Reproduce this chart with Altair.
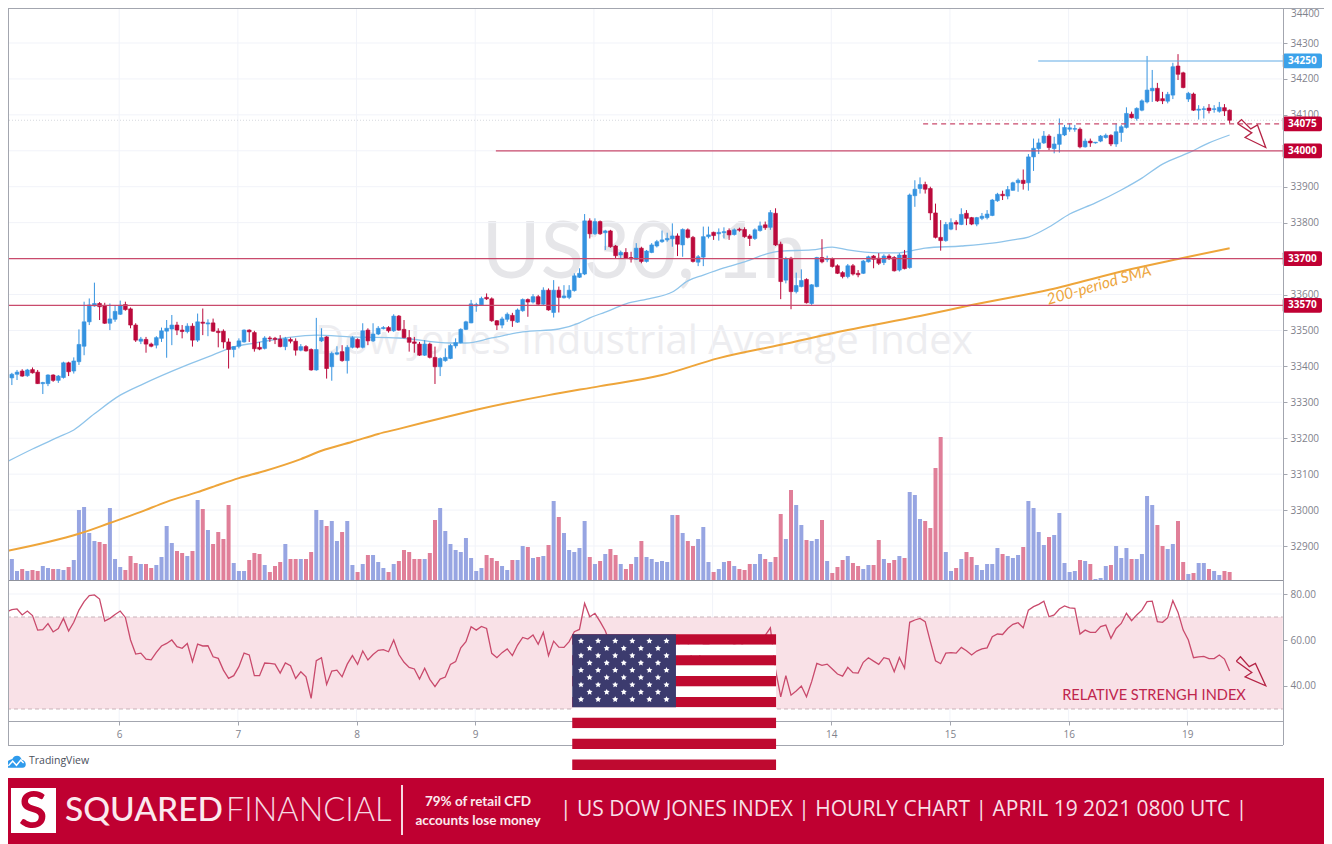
import altair as alt
import pandas as pd

OPEN = [33308,33368,33378,33387,33374,33391,33384,33352,33352,33376,
33361,33369,33410,33387,33413,33456,33524,33568,33575,33568,
33520,33531,33545,33572,33560,33515,33470,33475,33462,33459,
33478,33498,33504,33515,33501,33497,33512,33473,33523,33518,
33521,33498,33498,33468,33447,33456,33468,33501,33494,33453,
33450,33479,33478,33476,33455,33475,33470,33445,33455,33447,
33390,33471,33482,33399,33434,33441,33416,33453,33475,33453,
33501,33471,33490,33505,33508,33499,33540,33503,33480,33468,
33462,33431,33462,33425,33399,33416,33422,33457,33466,33503,
33521,33568,33571,33592,33588,33527,33515,33531,33542,33523,
33555,33586,33579,33594,33573,33612,33550,33612,33591,33592,
33611,33648,33657,33805,33769,33803,33772,33777,33735,33710,
33717,33703,33698,33729,33692,33717,33735,33747,33752,33755,
33763,33738,33780,33759,33690,33704,33761,33773,33769,33772,
33778,33767,33782,33781,33763,33756,33778,33794,33787,33826,
33740,33640,33701,33608,33622,33642,33575,33622,33703,33697,
33699,33680,33661,33650,33680,33659,33659,33691,33707,33701,
33689,33707,33703,33668,33710,33675,33875,33895,33906,33895,
33827,33759,33750,33782,33801,33795,33826,33814,33796,33812,
33814,33820,33861,33879,33874,33890,33911,33918,33911,33983,
34006,34022,34041,34006,34018,34044,34060,34060,34060,34011,
34027,34022,34027,34037,34043,34019,34051,34065,34102,34090,
34113,34136,34167,34174,34145,34138,34155,34236,34217,34144,
34158,34113,34115,34119,34115,34110,34120,34113]
CLOSE = [33390,33378,33384,33373,33390,33382,33352,33355,33376,33361,
33373,33410,33385,33415,33461,33524,33571,33575,33566,33520,
33532,33553,33570,33558,33515,33473,33476,33462,33456,33480,
33499,33506,33515,33501,33497,33512,33473,33524,33520,33521,
33498,33494,33468,33447,33455,33471,33501,33496,33449,33448,
33479,33477,33475,33455,33477,33470,33445,33455,33443,33390,
33447,33480,33394,33436,33438,33416,33453,33480,33453,33499,
33471,33490,33506,33508,33499,33540,33501,33480,33467,33464,
33431,33462,33425,33399,33422,33425,33458,33466,33503,33524,
33574,33572,33589,33588,33527,33515,33532,33545,33527,33557,
33586,33579,33594,33573,33612,33557,33612,33592,33596,33612,
33652,33659,33805,33769,33803,33769,33777,33733,33708,33717,
33701,33699,33729,33692,33721,33738,33747,33752,33756,33763,
33740,33781,33759,33692,33705,33761,33766,33764,33773,33775,
33766,33780,33779,33761,33756,33780,33791,33786,33828,33738,
33636,33699,33608,33625,33639,33577,33627,33703,33691,33699,
33678,33659,33650,33680,33657,33655,33693,33705,33698,33687,
33707,33701,33666,33710,33672,33877,33893,33906,33893,33827,
33759,33750,33795,33800,33796,33823,33812,33796,33814,33818,
33824,33863,33879,33875,33892,33911,33918,33909,33983,34007,
34022,34041,34009,34019,34046,34065,34064,34062,34011,34027,
34022,34024,34041,34043,34019,34053,34067,34104,34092,34118,
34139,34169,34174,34139,34139,34157,34234,34213,34176,34160,
34113,34116,34117,34112,34117,34121,34111,34085]
HIGH = [33394,33382,33390,33392,33393,33397,33390,33357,33378,33378,
33376,33413,33413,33425,33503,33580,33589,33633,33579,33577,
33575,33568,33583,33580,33564,33520,33482,33482,33466,33484,
33508,33529,33543,33524,33515,33520,33520,33547,33561,33531,
33533,33506,33503,33478,33456,33478,33503,33503,33499,33468,
33484,33484,33482,33487,33482,33480,33478,33462,33459,33450,
33535,33506,33484,33441,33456,33459,33459,33484,33478,33520,
33506,33520,33512,33512,33512,33545,33543,33529,33501,33482,
33468,33473,33466,33455,33425,33450,33462,33478,33506,33527,
33585,33577,33594,33603,33592,33529,33538,33550,33549,33561,
33589,33589,33601,33599,33620,33617,33640,33622,33626,33626,
33659,33673,33824,33812,33812,33806,33780,33780,33738,33722,
33729,33719,33743,33733,33724,33743,33752,33778,33772,33798,
33770,33784,33784,33763,33710,33789,33789,33775,33784,33787,
33784,33784,33786,33787,33768,33784,33803,33803,33835,33840,
33747,33705,33705,33661,33670,33645,33629,33705,33754,33708,
33703,33684,33665,33685,33685,33668,33696,33708,33710,33715,
33712,33712,33707,33715,33724,33881,33918,33926,33914,33900,
33853,33807,33802,33812,33807,33840,33835,33816,33816,33827,
33835,33866,33883,33889,33902,33914,33923,33948,33991,34034,
34034,34055,34046,34039,34090,34072,34076,34072,34065,34034,
34034,34024,34044,34048,34046,34076,34072,34121,34109,34121,
34143,34264,34225,34189,34164,34164,34245,34269,34220,34164,
34162,34127,34124,34130,34127,34136,34130,34115]
LOW = [33306,33348,33362,33371,33371,33380,33351,33323,33345,33357,
33354,33366,33373,33380,33404,33431,33515,33566,33529,33518,
33501,33524,33543,33555,33506,33468,33462,33438,33453,33450,
33468,33424,33459,33487,33478,33492,33455,33468,33487,33484,
33496,33453,33450,33394,33425,33450,33466,33468,33441,33445,
33447,33468,33462,33453,33445,33464,33430,33442,33441,33388,
33388,33468,33366,33360,33431,33413,33380,33450,33450,33450,
33459,33468,33487,33503,33494,33496,33499,33478,33441,33438,
33429,33429,33422,33351,33373,33413,33420,33450,33464,33501,
33520,33552,33568,33585,33524,33501,33506,33524,33510,33521,
33552,33538,33575,33571,33571,33555,33536,33550,33589,33587,
33608,33646,33654,33756,33766,33766,33724,33730,33701,33701,
33699,33689,33696,33687,33689,33715,33731,33744,33747,33733,
33707,33705,33756,33689,33679,33679,33756,33752,33750,33756,
33752,33764,33775,33758,33735,33752,33775,33780,33780,33735,
33587,33631,33559,33603,33620,33575,33568,33620,33687,33690,
33675,33657,33645,33645,33653,33648,33657,33689,33673,33682,
33682,33696,33664,33664,33670,33672,33844,33881,33881,33807,
33756,33722,33747,33779,33779,33793,33793,33793,33790,33807,
33809,33818,33858,33863,33865,33889,33886,33892,33889,33944,
33991,34019,34002,33993,33995,34041,34053,34053,34007,34009,
34011,34020,34024,34034,34013,34011,34025,34062,34090,34084,
34110,34132,34136,34136,34130,34132,34144,34197,34174,34136,
34111,34087,34090,34104,34106,34106,34097,34076]
VOLUME = [17,21,9,11,9,10,9,14,12,11,11,10,13,20,70,73,47,39,38,36,
72,21,13,10,24,17,16,16,12,15,23,54,37,29,27,24,29,80,71,50,
36,48,41,75,17,9,9,20,27,26,15,8,14,18,36,21,21,21,21,28,
70,60,54,59,39,48,59,15,8,16,25,25,18,12,8,16,19,30,28,21,
21,21,27,60,72,49,36,30,28,42,22,9,12,25,22,19,
14,10,20,20,34,33,22,23,24,35,79,63,47,30,28,32,59,23,16,19,
26,31,25,16,11,16,23,39,23,21,18,19,18,65,65,47,39,34,41,53,
18,8,11,18,19,14,11,10,16,16,26,21,18,23,66,41,90,75,55,40,
39,41,60,19,7,13,20,24,17,14,11,15,15,40,21,17,20,24,22,88,
85,61,59,52,112,143,28,9,12,21,28,23,15,10,16,16,32,26,24,22,
25,33,79,72,48,35,43,45,67,17,8,9,20,19,16,1,2,14,15,34,
22,32,21,21,26,84,75,55,34,31,36,59,18,6,7,17,17,11,9,5,9,8]
RSI = [72.3,73.2,73.5,70.9,72.6,70.6,64.3,64.5,67.1,63.5,65.0,69.4,63.9,67.7,73.0,76.7,79.3,79.6,77.8,68.2,
69.4,71.1,72.6,69.8,60.0,53.9,54.3,51.7,51.4,54.6,57.4,58.5,60.0,57.1,56.4,58.5,50.6,58.2,57.4,57.5,
52.7,52.0,46.9,43.3,44.5,48.4,54.3,53.5,44.5,44.5,50.0,49.8,49.5,45.6,50.0,48.8,43.3,46.2,44.0,34.6,
51.0,52.3,40.7,46.5,46.9,44.0,49.5,53.2,49.4,55.2,51.3,53.7,55.5,55.8,54.9,60.0,53.7,50.3,48.1,47.4,
43.0,47.7,42.9,39.7,43.0,43.9,49.4,50.6,56.6,59.3,65.8,64.3,65.9,65.0,54.2,52.3,54.5,56.1,53.2,57.8,
61.1,60.4,62.2,58.1,63.3,53.2,59.5,56.9,56.8,59.3,63.6,64.6,75.9,70.1,71.6,68.0,
64,58,56,55,57,55,58,54,57,59,60,60,61,61,57,61,59,50,51,58,58,60,59,60,60,58,57,59,61,60,60,62,
65.3,47,
35.3,44.5,36.0,37.8,40.0,35.3,41.9,49.8,49.0,49.5,47.4,45.2,44.3,48.1,45.8,45.6,50.3,52.3,50.8,49.4,
52.3,51.7,46.2,52.4,47.7,67.7,68.7,69.4,68.0,59.3,51.0,49.7,54.3,54.5,54.3,56.8,55.3,53.5,55.2,56.1,
56.6,61.4,62.6,62.4,65.0,66.8,67.5,65.3,73.0,74.5,75.5,76.9,70.1,70.9,73.5,74.8,74.0,73.8,62.6,64.3,
63.3,63.3,65.8,66.5,60.7,65.0,67.2,71.6,68.4,70.9,73.0,76.7,76.9,68.0,67.7,69.7,77.1,72.0,64.3,60.0,
52.3,52.7,52.9,51.9,51.9,53.5,51.7,46.5]

SMA50_BAR = [0,5,10,13,17,22,26,35,40,44,48,54,60,67,76,86,89,94,100,107,111,113,116,120,125,129,132,135,139,143,
148,150,156,160,163,169,173,175,178,185,191,195,198,202,206,211,216,220,224,229,233,237]
SMA50 = [33134,33170,33203,33223,33268,33320,33348,33404,33432,33454,33465,33479,33487,33482,33479,33465,33465,33479,33496,33504,33521,33535,33551,33574,33590,33607,33638,33654,33674,33691,
33716,33721,33724,33732,33724,33716,33716,33721,33729,33735,33743,33752,33760,33788,33824,33855,33891,33924,33963,33994,34022,34044]
SMA200_BAR = [0,8,14,20,26,31,37,41,45,50,57,61,67,72,76,86,91,105,115,127,138,150,163,177,187,202,218,227,237]
SMA200 = [32886,32911,32934,32964,32995,33023,33050,33070,33089,33109,33142,33165,33190,33212,33226,33262,33279,33320,33345,33376,33423,33460,33501,33540,33571,33613,33671,33699,33729]

GRID_PRICES = list(range(32900, 34401, 100))
AXIS_PRICES = [32900,33000,33100,33200,33300,33400,33500,33600,33800,33900,34100,34200,34300]
TOP_PRICE = 34400
RSI_TICKS = [40, 60, 80]
DAY_BARS = [21.8,44.8,67.8,90.8,113.8,136.8,159.8,182.8,205.8,228.8]
DAY_LABELS = ["6","7","8","9","12","13","14","15","16","19"]

LEVEL_PRICE = [33700, 33570, 34000, 34250, 34075]
LEVEL_START = [-1.3, -1.3, 94.8, 199.9, 177.6]
LEVEL_KIND = ["support", "support", "support", "peak", "dashed"]
LABEL_TEXT = ["33700", "33570", "34000", "34250", "34075"]

ARROW1_BAR = [238.5,239.3,241.1,242.4,244.0,240.0,241.3,238.5]
ARROW1_PRICE = [34076,34087,34061,34072,34009,34037,34050,34076]
ARROW2_BAR = [238.3,239.1,240.8,242.0,244.0,240.0,241.3,238.3]
ARROW2_RSI = [50.8,52.7,48.4,49.8,40.1,44.0,45.9,50.8]

CRIMSON = "#c00033"
UP = "#3593e0"
DOWN = "#bb0a3c"
VOL_UP = "#97a5e2"
VOL_DOWN = "#e07f99"
LINE_RED = "#c94a6c"
GRAY = "#a3a6af"
GRID = "#f1f3f9"
TICK_TEXT = "#7f828c"

n = len(OPEN)
candles = pd.DataFrame({"bar": range(n), "open": OPEN, "high": HIGH, "low": LOW, "close": CLOSE, "vol": VOLUME, "rsi": RSI})
candles["col"] = [UP if c >= o else DOWN for o, c in zip(OPEN, CLOSE)]
candles["vcol"] = [VOL_UP if c >= o else VOL_DOWN for o, c in zip(OPEN, CLOSE)]

X_SCALE = alt.Scale(domain=[-1.2984, 256.84], range=[0, 1332], nice=False, zero=False, padding=0)
PRICE_SCALE = alt.Scale(domain=[32805.4, 34405.8], range=[580, 5], nice=False, zero=False)
RSI_SCALE = alt.Scale(domain=[24.78, 86.09], range=[721, 580], nice=False, zero=False)
VOL_SCALE = alt.Scale(domain=[0, 150], range=[580, 430], nice=False, zero=False)
FLAG_SCALE = alt.Scale(domain=[0, 13], range=[634.3, 770], nice=False, zero=False)
AXIS_END = 247.3
BOX_END = 254.9

def X(f):
    return alt.X(f, scale=X_SCALE, axis=None, title=None)
def PY(f):
    return alt.Y(f, scale=PRICE_SCALE, axis=None, title=None)
def RY(f):
    return alt.Y(f, scale=RSI_SCALE, axis=None, title=None)
def FY(f):
    return alt.Y(f, scale=FLAG_SCALE, axis=None, title=None)

ONE = pd.DataFrame({"a": [0]})

def text(t, x, y, size, color, font="Open Sans", weight="normal", align="left", angle=0, style="normal"):
    return alt.Chart(pd.DataFrame({"t": [t]})).mark_text(
        font=font, fontSize=size, color=color, fontWeight=weight, align=align, angle=angle,
        baseline="middle", fontStyle=style
    ).encode(x=alt.value(x), y=alt.value(y), text="t:N")

def hrule(x1, x2, y, color, width=1):
    return alt.Chart(ONE).mark_rule(color=color, strokeWidth=width).encode(x=alt.value(x1), x2=alt.value(x2), y=alt.value(y))

def vrule(x, y1, y2, color, width=1):
    return alt.Chart(ONE).mark_rule(color=color, strokeWidth=width).encode(x=alt.value(x), y=alt.value(y1), y2=alt.value(y2))

def box(x1, x2, y1, y2, color):
    return alt.Chart(ONE).mark_rect(color=color).encode(x=alt.value(x1), x2=alt.value(x2), y=alt.value(y1), y2=alt.value(y2))

layers = []

# watermarks
layers.append(text("US30, 1h", 644, 254, 80, "#e6e6e9", font="Lato", align="center"))
layers.append(text("Dow Jones Industrial Average Index", 644, 342, 40, "#ededf0", font="Open Sans", align="center"))

# grids with the real axes
price_axis = alt.Axis(orient="right", offset=-41, values=AXIS_PRICES, format="d", grid=False, title=None,
                      labelColor=TICK_TEXT, labelFont="Open Sans", labelFontSize=10, labelPadding=3,
                      tickColor=GRAY, tickSize=4, domainColor=GRAY, labelOverlap=False, labelFlush=False)
layers.append(alt.Chart(pd.DataFrame({"p": GRID_PRICES})).mark_rule(color=GRID).encode(
    x=alt.value(8), x2=alt.value(1282), y=alt.Y("p:Q", scale=PRICE_SCALE, axis=price_axis)))
layers.append(text(str(TOP_PRICE), 1291, 14, 10, TICK_TEXT))

rsi_axis = alt.Axis(orient="right", offset=-41, values=RSI_TICKS, format=".2f", grid=False, title=None,
                    labelColor=TICK_TEXT, labelFont="Open Sans", labelFontSize=10, labelPadding=3,
                    tickColor=GRAY, tickSize=4, domainColor=GRAY, labelOverlap=False, labelFlush=False)
layers.append(alt.Chart(pd.DataFrame({"p": RSI_TICKS})).mark_rule(color=GRID).encode(
    x=alt.value(8), x2=alt.value(1282), y=alt.Y("p:Q", scale=RSI_SCALE, axis=rsi_axis)))

labels_js = "[" + ",".join(f"'{d}'" for d in DAY_LABELS) + "]"
x_axis = alt.Axis(orient="bottom", offset=-123, values=DAY_BARS, grid=False, title=None, domain=False,
                  labelExpr=f"{labels_js}[round((datum.value-{DAY_BARS[0]})/23)]",
                  labelColor=TICK_TEXT, labelFont="Open Sans", labelFontSize=10, labelPadding=4,
                  tickColor=GRAY, tickSize=4, labelOverlap=False, labelFlush=False)
layers.append(alt.Chart(pd.DataFrame({"k": DAY_BARS})).mark_rule(color=GRID).encode(
    x=alt.X("k:Q", scale=X_SCALE, axis=x_axis), y=alt.value(5), y2=alt.value(721)))

# RSI band
band = pd.DataFrame({"a": [-1.3], "b": [AXIS_END], "lo": [30], "hi": [70]})
layers.append(alt.Chart(band).mark_rect(color="#f9e1e7").encode(
    x=X("a:Q"), x2="b:Q", y=RY("lo:Q"), y2="hi:Q"))
for lvl in (30, 70):
    layers.append(alt.Chart(pd.DataFrame({"a": [-1.3], "b": [AXIS_END], "r": [lvl]})).mark_rule(
        color="#c9b3ba", strokeDash=[4, 3]).encode(x=X("a:Q"), x2="b:Q", y=RY("r:Q")))

# volume
layers.append(alt.Chart(candles).mark_bar(size=4, orient="vertical").encode(
    x=X("bar:Q"), y=alt.Y("vol:Q", scale=VOL_SCALE, axis=None, title=None),
    color=alt.Color("vcol:N", scale=None)))

# moving averages
layers.append(alt.Chart(pd.DataFrame({"k": SMA200_BAR, "p": SMA200})).mark_line(
    color="#eea53a", strokeWidth=2, interpolate="monotone").encode(x=X("k:Q"), y=PY("p:Q")))
layers.append(alt.Chart(pd.DataFrame({"k": SMA50_BAR, "p": SMA50})).mark_line(
    color="#8fc4ea", strokeWidth=1.3, interpolate="monotone").encode(x=X("k:Q"), y=PY("p:Q")))

# last price dotted line
layers.append(alt.Chart(pd.DataFrame({"a": [-1.3], "b": [AXIS_END], "p": [34085]})).mark_rule(
    color="#d5d8de", strokeDash=[1, 2]).encode(x=X("a:Q"), x2="b:Q", y=PY("p:Q")))

# candles
layers.append(alt.Chart(candles).mark_rule(strokeWidth=1).encode(
    x=X("bar:Q"), y=PY("low:Q"), y2="high:Q", color=alt.Color("col:N", scale=None)))
layers.append(alt.Chart(candles).mark_bar(size=3.8, orient="vertical", strokeWidth=0.6).encode(
    x=X("bar:Q"), y=PY("open:Q"), y2="close:Q",
    color=alt.Color("col:N", scale=None), stroke=alt.Stroke("col:N", scale=None)))

# horizontal levels
levels = pd.DataFrame({"p": LEVEL_PRICE, "a": LEVEL_START, "b": [AXIS_END] * 5, "kind": LEVEL_KIND, "t": LABEL_TEXT})
layers.append(alt.Chart(levels[levels.kind == "support"]).mark_rule(color=LINE_RED, strokeWidth=1.2).encode(
    x=X("a:Q"), x2="b:Q", y=PY("p:Q")))
layers.append(alt.Chart(levels[levels.kind == "peak"]).mark_rule(color="#62ace6", strokeWidth=1.2).encode(
    x=X("a:Q"), x2="b:Q", y=PY("p:Q")))
layers.append(alt.Chart(levels[levels.kind == "dashed"]).mark_rule(color=LINE_RED, strokeWidth=1.1, strokeDash=[5, 4]).encode(
    x=X("a:Q"), x2="b:Q", y=PY("p:Q")))

# price labels on the axis
boxes = levels.assign(top=levels.p + 20.5, bot=levels.p - 20.5, e=BOX_END,
                      fillc=[("#3ba2ea" if k == "peak" else CRIMSON) for k in levels.kind],
                      mid=(AXIS_END + BOX_END) / 2)
layers.append(alt.Chart(boxes).mark_rect(cornerRadius=2).encode(
    x=X("b:Q"), x2="e:Q", y=PY("top:Q"), y2="bot:Q", color=alt.Color("fillc:N", scale=None)))
layers.append(alt.Chart(boxes).mark_text(color="white", font="Open Sans", fontSize=10, fontWeight="bold").encode(
    x=X("mid:Q"), y=PY("p:Q"), text="t:N"))

# RSI line
layers.append(alt.Chart(candles).mark_line(color=LINE_RED, strokeWidth=1.3).encode(x=X("bar:Q"), y=RY("rsi:Q")))

# arrows
layers.append(alt.Chart(pd.DataFrame({"k": ARROW1_BAR, "p": ARROW1_PRICE, "o": range(8)})).mark_line(color="#b52345", strokeWidth=1.3).encode(
    x=X("k:Q"), y=PY("p:Q"), order="o:Q"))
layers.append(alt.Chart(pd.DataFrame({"k": ARROW2_BAR, "p": ARROW2_RSI, "o": range(8)})).mark_line(color="#b52345", strokeWidth=1.3).encode(
    x=X("k:Q"), y=RY("p:Q"), order="o:Q"))

# frame
layers.append(hrule(8, 1324, 8.5, GRAY))
layers.append(hrule(8, 1283, 580.5, "#8f929c"))
layers.append(hrule(8, 1283, 721.5, GRAY))
layers.append(hrule(8, 1283, 745.5, GRAY))
layers.append(vrule(8.5, 8, 745, GRAY))
layers.append(vrule(1283.5, 8, 745, GRAY))

# annotations
layers.append(text("200-period SMA", 1099, 285, 15.5, "#eda640", font="Lato", angle=344, align="center", style="italic"))
layers.append(text("RELATIVE STRENGH INDEX", 1154, 696, 14.6, "#c0264d", font="Lato", align="center"))

# flag
STRIPES = list(range(13))
stripes = pd.DataFrame({"a": [109.6] * 13, "b": [149.1] * 13, "r": STRIPES, "r2": [s + 1 for s in STRIPES],
                        "c": ["#bf0a30" if s % 2 == 0 else "#ffffff" for s in STRIPES]})
layers.append(alt.Chart(stripes).mark_rect().encode(
    x=X("a:Q"), x2="b:Q", y=FY("r:Q"), y2="r2:Q", color=alt.Color("c:N", scale=None)))
canton = pd.DataFrame({"a": [109.6], "b": [129.7], "r": [0], "r2": [7]})
layers.append(alt.Chart(canton).mark_rect(color="#3c3b6e").encode(x=X("a:Q"), x2="b:Q", y=FY("r:Q"), y2="r2:Q"))
star_k, star_r = [], []
for row in range(9):
    for col in range(6 if row % 2 == 0 else 5):
        px = 581 + 17.1 * col + (8.6 if row % 2 else 0)
        py = 641 + 7.3 * row
        star_k.append((px - 6.7) / 5.16)
        star_r.append((py - 634.3) / 10.44)
STAR = "M0,-1L0.294,-0.405L0.951,-0.309L0.476,0.155L0.588,0.809L0,0.5L-0.588,0.809L-0.476,0.155L-0.951,-0.309L-0.294,-0.405Z"
layers.append(alt.Chart(pd.DataFrame({"k": star_k, "r": star_r})).mark_point(
    shape=STAR, filled=True, color="white", opacity=1, size=40).encode(x=X("k:Q"), y=FY("r:Q")))

# TradingView
CLOUD = "M-1,0.6C-1.2,-0.1 -0.6,-0.3 -0.4,-0.3C-0.2,-0.8 0.5,-0.8 0.6,-0.2C1.1,-0.2 1.2,0.6 0.7,0.6Z"
ZIG = "M-0.8,0.4L-0.35,-0.1L0.05,0.35L0.5,-0.2L0.8,0.1"
layers.append(alt.Chart(ONE).mark_point(shape=CLOUD, filled=True, color="#2f9bec", opacity=1, size=360).encode(
    x=alt.value(16), y=alt.value(762)))
layers.append(alt.Chart(ONE).mark_point(shape=ZIG, filled=False, color="white", opacity=1, size=360, strokeWidth=1.5).encode(
    x=alt.value(16), y=alt.value(762)))
layers.append(text("TradingView", 29, 761, 10.5, "#4a4f5c", font="Open Sans"))

# banner
layers.append(box(0, 1332, 778, 844, "#bf0031"))
layers.append(box(11, 56, 788, 833, "#ffffff"))
layers.append(text("S", 33, 812, 52, "#bf0031", font="Lato", weight="bold", align="center"))
layers.append(text("SQUARED", 65, 811, 33.5, "#fbe9ee", font="Lato", weight=500))
layers.append(text("FINANCIAL", 226, 811, 32.5, "#f6d9e1", font="Lato", weight=300))
layers.append(vrule(402, 785, 835, "#f6d9e1", 2))
layers.append(text("79% of retail CFD", 478, 802, 13.5, "#fbe9ee", font="Lato", weight="bold", align="center"))
layers.append(text("accounts lose money", 478, 821, 13.5, "#fbe9ee", font="Lato", weight="bold", align="center"))
layers.append(text("| US DOW JONES INDEX | HOURLY CHART | APRIL 19 2021 0800 UTC |", 560, 810, 21, "#f8dfe6", font="Open Sans"))

chart = alt.layer(*layers).resolve_scale(y="independent").resolve_axis(x="independent").properties(
    width=1324, height=844, autosize="none",
    padding={"left": -8, "top": -8, "right": 0, "bottom": 0},
    background="white",
).configure_view(stroke=None)

chart.save("out.html", embed_options={"renderer": "svg", "actions": False})
